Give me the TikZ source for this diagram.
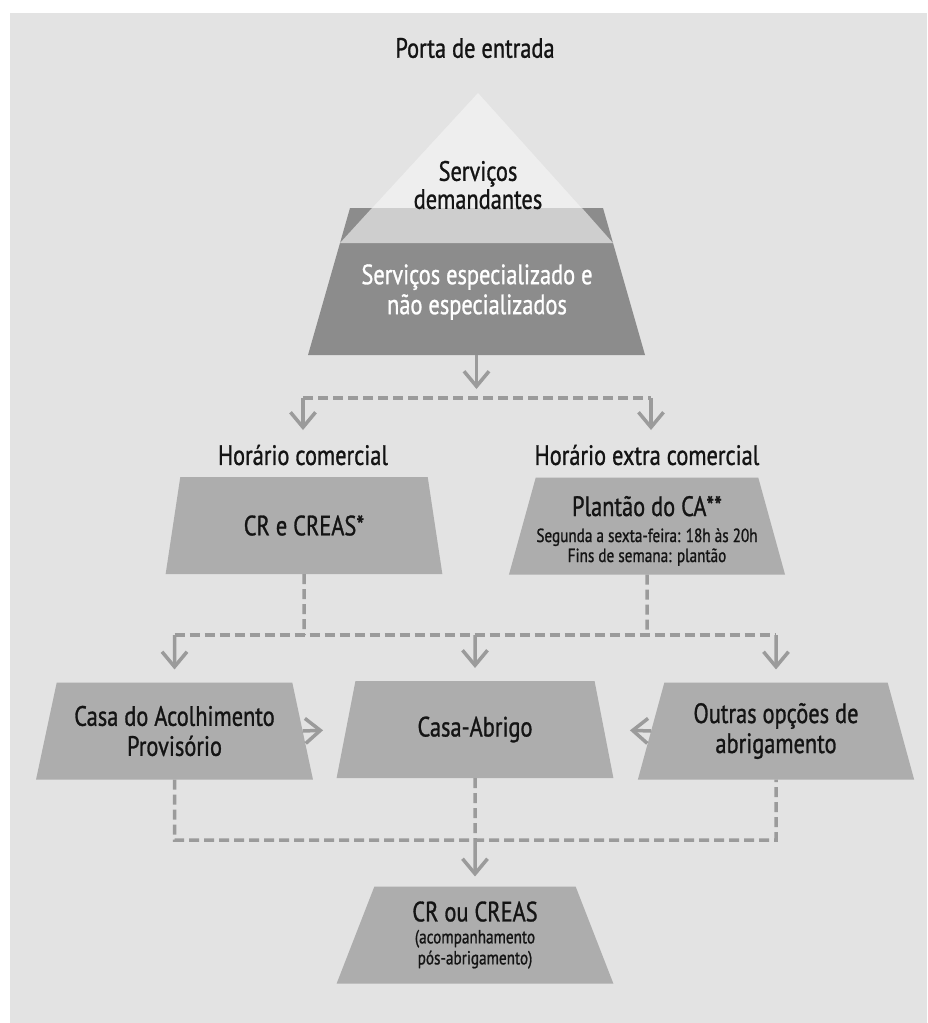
\documentclass[tikz,border=0pt]{standalone}
\usepackage{fontspec}
\setmainfont{PT Sans}[FakeStretch=0.8, FakeBold=1]
\usetikzlibrary{arrows.meta,shapes.geometric}
\definecolor{bgc}{HTML}{E3E3E3}
\definecolor{trapc}{HTML}{ADADAD}
\definecolor{darkc}{HTML}{8C8C8C}
\definecolor{bandc}{HTML}{CECECE}
\definecolor{tric}{HTML}{EEEEEE}
\definecolor{linec}{HTML}{9B9B9B}
\definecolor{ink}{HTML}{141414}
\begin{document}
\begin{tikzpicture}[x=1pt,y=-1pt,
  box/.style={trapezium, trapezium angle=70.7, trapezium stretches=true,
    minimum width=277pt, minimum height=97pt, inner sep=0pt, outer sep=0pt,
    fill=trapc, text=ink, align=center, font=\fontsize{28}{30}\selectfont},
  lbl/.style={text=ink, font=\fontsize{28}{30}\selectfont, align=center, inner sep=0pt},
  conn/.style={draw=linec, line width=3.5pt},
  dsh/.style={conn, dash pattern=on 10pt off 5pt},
  arr/.style={conn, -{Straight Barb[length=15pt,width=25pt]}}]
\useasboundingbox (0,0) rectangle (927,1023);
\fill[white] (0,0) rectangle (927,1023);
\fill[bgc] (10,13) rectangle (927,1023);

% title
\node[lbl] (porta) at (475,48) {Porta de entrada};

% pyramid
\fill[tric] (478,93) -- (340,243) -- (613,243) -- cycle;
\fill[darkc] (350,208) -- (603,208) -- (645,355) -- (308,355) -- cycle;
\fill[bandc] (372,208) -- (582,208) -- (613,243) -- (340,243) -- cycle;
\coordinate (spec) at (476.5,355);
\node[lbl, font=\fontsize{28}{28}\selectfont] (dem) at (478,185) {Serviços\\demandantes};
\node[lbl, text=white] (esp) at (477,292) {Serviços especializado e\\não especializados};

% first split
\coordinate (t1) at (476.5,389);
\coordinate (hl) at (303,398);
\coordinate (hr) at (651,398);
\coordinate (al) at (303,430);
\coordinate (ar) at (651,430);
\draw[arr] (spec) -- (t1);
\draw[dsh] (hl) -- (hr);
\draw[arr] (hl) -- (al);
\draw[arr] (hr) -- (ar);

\node[lbl] (hcom) at (303,455) {Horário comercial};
\node[lbl] (hext) at (647,455) {Horário extra comercial};

\node[box] (crc) at (304,525.5) {CR e CREAS*};
\node[box] (plc) at (647,526) {\raisebox{-7pt}[\height][\depth]{\setlength{\tabcolsep}{0pt}%
  \begin{tabular}{c}
  Plantão do CA**\\[-4pt]
  {\fontsize{19}{21}\selectfont Segunda a sexta-feira: 18h às 20h}\\[-10pt]
  {\fontsize{19}{21}\selectfont Fins de semana: plantão}
  \end{tabular}}};

% second split
\coordinate (m1) at (304,635);
\coordinate (m2) at (647,635);
\coordinate (ml) at (174.5,635);
\coordinate (mm) at (475,635);
\coordinate (mr) at (776,635);
\draw[dsh] (crc.south) -- (m1);
\draw[dsh] (plc.south) -- (m2);
\draw[dsh] (ml) -- (mr);

\node[box] (casa) at (174.5,731) {Casa do Acolhimento\\Provisório};
\node[box] (abrigo) at (475,729.5) {Casa-Abrigo};
\node[box] (outras) at (776,731) {Outras opções de\\abrigamento};

\draw[arr, shorten >=13pt] (ml) -- (casa.north);
\draw[arr, shorten >=13pt] (mm) -- (abrigo.north);
\draw[arr, shorten >=13pt] (mr) -- (outras.north);

\draw[arr, shorten >=23pt] (casa.east) -- (abrigo.west);
\draw[arr, shorten >=26pt] (outras.west) -- (abrigo.east);

% merge
\coordinate (b1) at (174.5,840);
\coordinate (b2) at (475,840);
\coordinate (b3) at (776,840);
\draw[dsh] (casa.south) -- (b1) -- (b3) -- (outras.south);
\draw[dsh] (abrigo.south) -- (b2);

\node[box] (final) at (475,935) {CR ou CREAS\\[-8pt]
  {\fontsize{19}{21}\selectfont (acompanhamento}\\[-9pt]
  {\fontsize{19}{21}\selectfont pós-abrigamento)}};
\draw[arr, shorten >=10pt] (b2) -- (final.north);
\end{tikzpicture}
\end{document}
